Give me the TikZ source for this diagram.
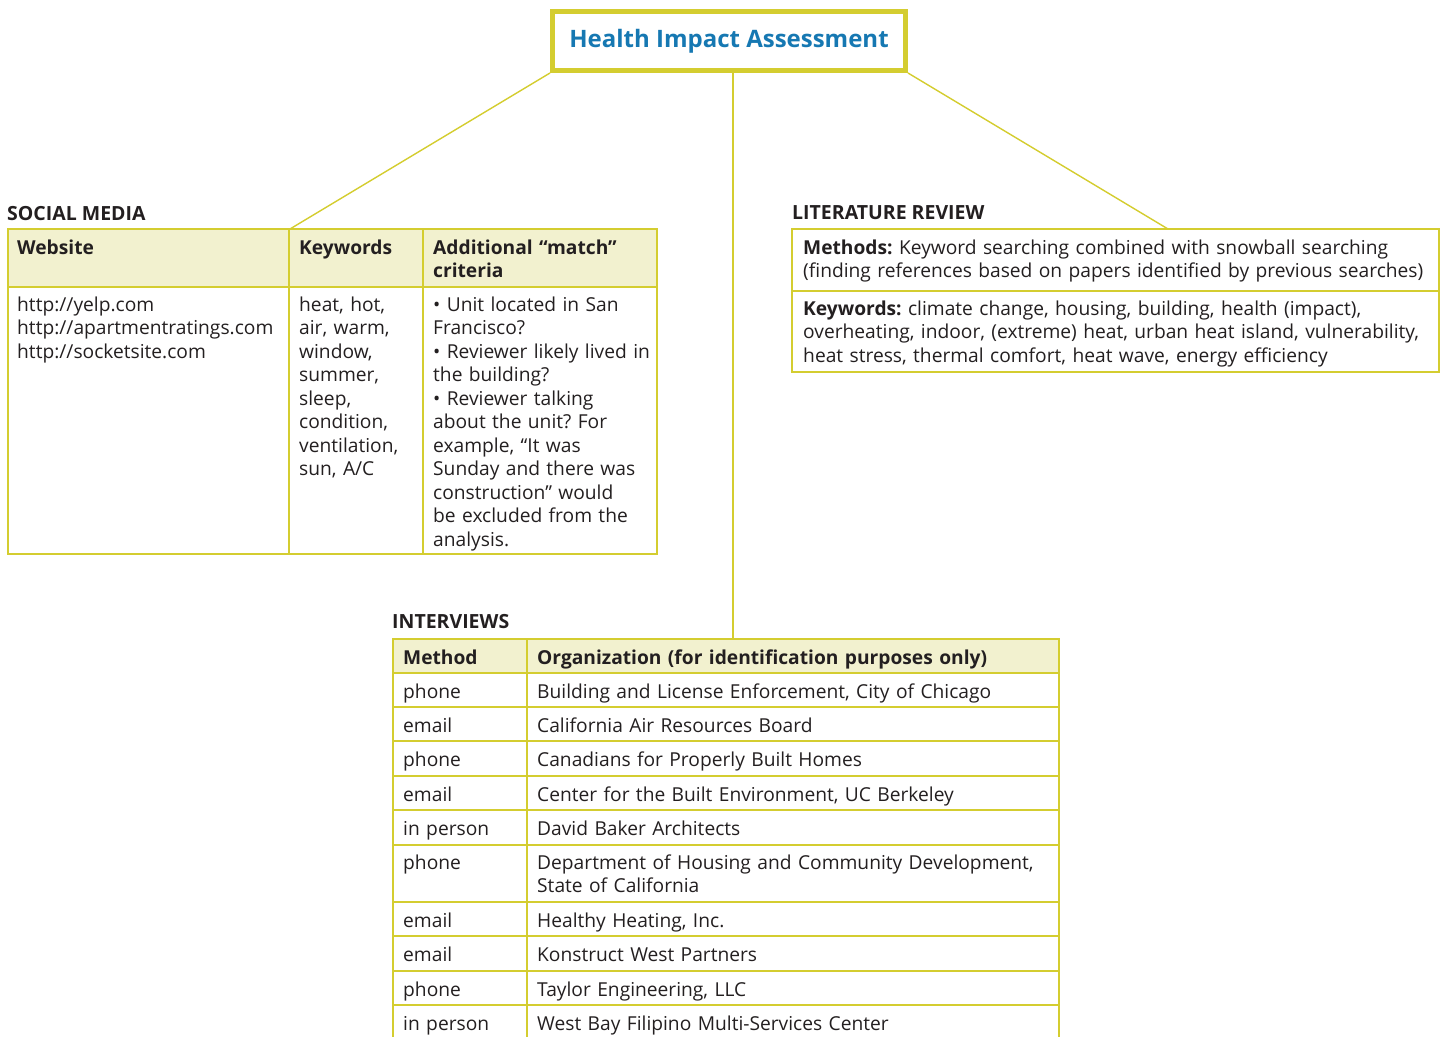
\documentclass[tikz,border=0pt]{standalone}
\usepackage{fontspec}
\setmainfont{Open Sans}
\usetikzlibrary{calc}
\frenchspacing
\definecolor{hiaolive}{RGB}{212,205,48}
\definecolor{hiacream}{RGB}{242,241,207}
\definecolor{hiablue}{RGB}{22,120,178}
\definecolor{hiaink}{RGB}{35,31,32}
\tikzset{
  titlebox/.style={draw=hiaolive, line width=5pt, minimum width=353pt, minimum height=59pt,
    inner sep=0pt, text=hiablue, font=\fontsize{24}{29}\selectfont\bfseries},
  link/.style={draw=hiaolive, line width=1.4pt},
  grid/.style={draw=hiaolive, line width=2.6pt},
  headfill/.style={fill=hiacream},
  section/.style={anchor=base west, inner sep=0pt, text=hiaink, font=\fontsize{19.5}{23}\selectfont\bfseries},
  cell/.style={anchor=base west, inner sep=0pt, align=left, text width=#1, text=hiaink,
    font=\fontsize{19.2}{23.5}\selectfont},
  cell/.default=250pt,
  hcell/.style={cell=#1, font=\fontsize{19.2}{23.5}\selectfont\bfseries},
  hcell/.default=250pt
}
% one row of the interviews table: name, baseline, method, organization
\newcommand{\ivrow}[4]{\node[cell=120pt] (ivm#1) at (403,#2) {#3}; \node[cell=515pt] (ivo#1) at (537,#2) {#4};}

\begin{document}
\begin{tikzpicture}[x=1pt,y=-1pt]
  \clip (0,0) rectangle (1445,1036);

  % top box and the three links
  \node[titlebox] (title) at (729,41) {Health Impact Assessment};
  \coordinate (smtop) at (290,229);
  \coordinate (lrtop) at (1168,229);
  \coordinate (ivtop) at (733,639);
  \draw[link] (title.south west) -- (smtop);
  \draw[link] (title.south east) -- (lrtop);
  \draw[link] (ivtop) -- (ivtop |- title.south);

  % social media
  \node[section] (smlabel) at (7,220) {SOCIAL MEDIA};
  \fill[headfill] (8,229) rectangle (657,287);
  \draw[grid] (8,229) rectangle (657,554);
  \draw[grid] (8,287) -- (657,287);
  \draw[grid] (289,229) -- (289,554);
  \draw[grid] (423,229) -- (423,554);
  \node[hcell=265pt] (smweb) at (17,254) {Website};
  \node[hcell=120pt] (smkey) at (299,254) {Keywords};
  \node[hcell=222pt] (smcrit) at (433,254) {Additional “match”\\criteria};
  \node[cell=268pt] (smurls) at (17,311) {http://yelp.com\\http://apartmentratings.com\\http://socketsite.com};
  \node[cell=120pt] (smwords) at (299,311) {heat, hot,\\air, warm,\\window,\\summer,\\sleep,\\condition,\\ventilation,\\sun, A/C};
  \node[cell=222pt] (smrules) at (433,311) {• Unit located in San\\Francisco?\\• Reviewer likely lived in\\the building?\\• Reviewer talking\\about the unit? For\\example, “It was\\Sunday and there was\\construction” would\\be excluded from the\\analysis.};

  % literature review
  \node[section] (lrlabel) at (792,219) {LITERATURE REVIEW};
  \draw[grid] (792,229) rectangle (1439,372);
  \draw[grid] (792,291) -- (1439,291);
  \node[cell=632pt] (lrmeth) at (803,254) {\textbf{Methods:} Keyword searching combined with snowball searching\\(finding references based on papers identified by previous searches)};
  \node[cell=632pt] (lrkeys) at (803,315) {\textbf{Keywords:} climate change, housing, building, health (impact),\\overheating, indoor, (extreme) heat, urban heat island, vulnerability,\\heat stress, thermal comfort, heat wave, energy efficiency};

  % interviews
  \node[section] (ivlabel) at (392,628) {INTERVIEWS};
  \fill[headfill] (393,639) rectangle (1059,673);
  \draw[grid] (393,639) rectangle (1059,1040);
  \draw[grid] (527,639) -- (527,1040);
  \foreach \y in {673,707,741,776,810,845,902,936,971,1005}
    \draw[grid] (393,\y) -- (1059,\y);
  \node[hcell=120pt] (ivmhead) at (403,664) {Method};
  \node[hcell=515pt] (ivohead) at (537,664) {Organization (for identification purposes only)};
  \ivrow{1}{698}{phone}{Building and License Enforcement, City of Chicago}
  \ivrow{2}{732}{email}{California Air Resources Board}
  \ivrow{3}{766}{phone}{Canadians for Properly Built Homes}
  \ivrow{4}{801}{email}{Center for the Built Environment, UC Berkeley}
  \ivrow{5}{835}{in person}{David Baker Architects}
  \ivrow{6}{869}{phone}{Department of Housing and Community Development,\\State of California}
  \ivrow{7}{927}{email}{Healthy Heating, Inc.}
  \ivrow{8}{961}{email}{Konstruct West Partners}
  \ivrow{9}{996}{phone}{Taylor Engineering, LLC}
  \ivrow{10}{1030}{in person}{West Bay Filipino Multi-Services Center}
\end{tikzpicture}
\end{document}
